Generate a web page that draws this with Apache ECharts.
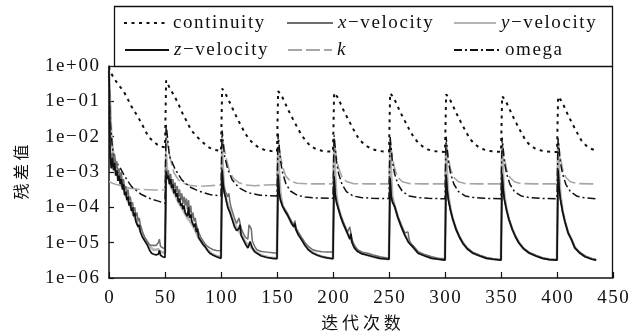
<!DOCTYPE html>
<html><head><meta charset="utf-8">
<script src="https://cdn.jsdelivr.net/npm/echarts@6/dist/echarts.min.js"></script>
<style>html,body{margin:0;padding:0;background:#fff}#c{width:632px;height:335px}</style>
</head><body><div id="c"></div>
<script>
// ---- data: [iteration, residual] ----
const continuity = [
[0,0.95],[1,0.7],[5,0.42],[9,0.28],[13,0.195],[17,0.112],[20,0.072],[24,0.045],[28,0.0275],[32,0.0158],[35,0.0102],[39,0.0076],[43,0.006],[47,0.0052],[50,0.005],
[51,0.39],[54,0.245],[57,0.166],[60,0.112],[63,0.071],[66,0.043],[70,0.025],[73,0.0158],[77,0.0112],[81,0.0083],[86,0.006],[90,0.0048],[95,0.0042],[100,0.0039],
[101,0.23],[104,0.166],[107,0.105],[110,0.066],[114,0.0355],[118,0.02],[122,0.0118],[126,0.0079],[130,0.0059],[135,0.0047],[140,0.0041],[145,0.0039],[150,0.0038],
[151,0.195],[154,0.148],[157,0.093],[160,0.0575],[164,0.0324],[168,0.0186],[172,0.011],[176,0.0074],[180,0.0054],[185,0.0044],[190,0.004],[195,0.0038],[200,0.0038],
[201,0.174],[204,0.132],[207,0.083],[210,0.051],[214,0.029],[218,0.0166],[222,0.0098],[226,0.0069],[230,0.0054],[235,0.0044],[240,0.004],[245,0.0038],[250,0.0038],
[251,0.17],[254,0.13],[257,0.082],[260,0.05],[264,0.0285],[268,0.0163],[272,0.0097],[276,0.0068],[280,0.0053],[285,0.0043],[290,0.0039],[295,0.0038],[300,0.0037],
[301,0.158],[304,0.12],[307,0.076],[310,0.047],[314,0.0265],[318,0.0151],[322,0.0089],[326,0.0063],[330,0.0051],[335,0.0043],[340,0.0039],[345,0.0038],[350,0.0037],
[351,0.14],[354,0.105],[357,0.067],[360,0.041],[364,0.023],[368,0.0131],[372,0.0078],[376,0.0057],[380,0.0047],[385,0.0041],[390,0.0038],[395,0.0037],[400,0.0037],
[401,0.135],[404,0.102],[407,0.065],[410,0.04],[414,0.0224],[418,0.0128],[422,0.0076],[426,0.0056],[430,0.0046],[435,0.004]
];
const xVelocity = [
[0,0.9],[1,5e-3],[2,2e-3],[3,3.5e-3],[4,1.6e-3],[5,3.2e-3],[6,1.26e-3],[7,2e-3],[8,7.9e-4],[9,1.26e-3],[10,6.3e-4],[11,1e-3],[12,4.5e-4],[13,6.3e-4],[14,3.2e-4],[15,4e-4],[16,2.2e-4],[17,3.2e-4],[18,1.6e-4],[19,2e-4],[20,1.12e-4],[21,1.4e-4],[22,7.9e-5],[23,1e-4],[24,5.6e-5],[25,7.1e-5],[26,4e-5],[27,5e-5],[28,3.2e-5],[30,2e-5],[32,1.4e-5],[34,1.12e-5],[36,8.9e-6],[38,8.3e-6],[40,8.5e-6],[42,8.3e-6],[44,1e-5],[45,1.26e-5],[46,7.9e-6],[48,7.1e-6],[50,6.9e-6],
[51,1.26e-3],[52,7.9e-4],[53,1.12e-3],[54,5.6e-4],[55,8.9e-4],[56,4.5e-4],[57,6.3e-4],[58,3.5e-4],[59,5e-4],[60,2.8e-4],[61,4e-4],[62,2e-4],[63,3.2e-4],[64,1.6e-4],[65,2.5e-4],[66,1.26e-4],[67,2e-4],[68,1.12e-4],[69,1.8e-4],[70,8.9e-5],[71,1.6e-4],[72,7.1e-5],[73,1.12e-4],[74,5e-5],[75,7.1e-5],[76,4e-5],[77,5e-5],[78,3.2e-5],[79,3.5e-5],[80,2e-5],[82,1.4e-5],[84,1.12e-5],[86,8.9e-6],[88,7.9e-6],[90,7.1e-6],[93,6.3e-6],[96,6e-6],[100,5.9e-6],
[101,1.26e-3],[102,5e-4],[103,3.5e-4],[104,2.8e-4],[105,2.5e-4],[106,2e-4],[107,2.5e-4],[108,1.4e-4],[109,1e-4],[110,7.9e-5],[112,5e-5],[114,3.5e-5],[116,5e-5],[117,5.6e-5],[118,2.5e-5],[120,1.8e-5],[122,1.4e-5],[124,1.26e-5],[125,3.2e-5],[126,3.5e-5],[127,2.5e-5],[128,1.12e-5],[130,7.9e-6],[132,6.3e-6],[136,5.6e-6],[141,5.4e-6],[146,5.2e-6],[150,5e-6],
[151,8.9e-4],[152,2.8e-4],[153,1.8e-4],[155,1.12e-4],[157,8.9e-5],[159,7.1e-5],[161,5.2e-5],[163,4e-5],[165,3.2e-5],[166,4.2e-5],[167,2.6e-5],[169,2e-5],[172,1.4e-5],[175,1e-5],[178,7.9e-6],[182,6.3e-6],[186,5.8e-6],[190,5.5e-6],[195,5.4e-6],[200,5.4e-6],
[201,7.9e-4],[202,2.5e-4],[203,1.6e-4],[205,9.3e-5],[207,5.8e-5],[209,4e-5],[211,2.8e-5],[213,2e-5],[215,2.8e-5],[216,2.5e-5],[217,1.2e-5],[219,8.3e-6],[222,6.3e-6],[226,5.4e-6],[231,5e-6],[236,4.5e-6],[242,4e-6],[250,3.6e-6],
[251,7.1e-4],[252,2.2e-4],[253,1.6e-4],[255,1.12e-4],[258,5.5e-5],[261,3.2e-5],[264,1.9e-5],[267,2e-5],[268,1.26e-5],[269,1e-5],[272,7.9e-6],[276,5.6e-6],[282,4.6e-6],[288,4e-6],[294,3.6e-6],[300,3.5e-6],
[301,8.5e-4],[302,3.1e-4],[303,1.7e-4],[305,8.4e-5],[307,4.7e-5],[310,2.45e-5],[313,1.5e-5],[316,1.02e-5],[320,7e-6],[325,5.3e-6],[331,4.4e-6],[337,3.8e-6],[343,3.5e-6],[350,3.3e-6],
[351,9.1e-4],[352,3.2e-4],[353,1.7e-4],[355,8.6e-5],[357,4.8e-5],[360,2.5e-5],[363,1.5e-5],[366,1e-5],[370,7e-6],[375,5.3e-6],[381,4.4e-6],[387,3.7e-6],[393,3.4e-6],[400,3.3e-6],
[401,1.2e-3],[402,3.4e-4],[403,1.75e-4],[405,7.8e-5],[407,4.2e-5],[410,1.95e-5],[413,1.25e-5],[416,7.4e-6],[420,5.4e-6],[425,4.2e-6],[431,3.5e-6],[435,3.3e-6]
];
const yVelocity = [
[0,0.7],[1,8e-2],[2,1.2e-2],[3,5e-3],[4,3e-3],[6,1.8e-3],[8,1e-3],[10,6.5e-4],[12,4e-4],[14,2.6e-4],[16,1.8e-4],[18,1.25e-4],[20,9e-5],[22,6.2e-5],[24,4.4e-5],[26,3e-5],[28,2.2e-5],[30,1.6e-5],[33,1.1e-5],[36,7.8e-6],[40,6.2e-6],[44,6.5e-6],[46,5.6e-6],[50,5e-6],
[51,3e-3],[52,1e-3],[54,5e-4],[56,3.5e-4],[58,2.6e-4],[60,1.9e-4],[62,1.4e-4],[64,1.1e-4],[66,8.5e-5],[68,6.5e-5],[70,5e-5],[72,4.2e-5],[74,3.4e-5],[76,2.6e-5],[78,1.9e-5],[80,1.4e-5],[84,9e-6],[88,6.2e-6],[92,4.8e-6],[96,4.2e-6],[100,3.9e-6],
[101,4e-3],[102,8e-4],[103,3e-4],[105,1.5e-4],[107,1e-4],[110,5e-5],[114,2.6e-5],[118,1.7e-5],[122,1e-5],[126,8e-6],[130,5.8e-6],[136,4.4e-6],[143,3.8e-6],[150,3.6e-6],
[151,5e-3],[152,8e-4],[153,2.5e-4],[155,1.1e-4],[159,6.5e-5],[163,3.6e-5],[167,2.4e-5],[172,1.25e-5],[178,6.5e-6],[186,4.5e-6],[193,3.8e-6],[200,3.5e-6],
[201,5e-3],[202,8e-4],[203,2.2e-4],[205,9e-5],[209,3.6e-5],[213,1.9e-5],[217,1.05e-5],[222,5.8e-6],[230,4.5e-6],[240,3.7e-6],[250,3.4e-6],
[251,5e-3],[252,7.5e-4],[253,2e-4],[255,1.1e-4],[258,5.2e-5],[261,2.9e-5],[264,1.7e-5],[268,1.05e-5],[272,7.3e-6],[276,5.1e-6],[284,4.1e-6],[292,3.5e-6],[300,3.3e-6],
[301,5e-3],[302,7e-4],[303,2.2e-4],[305,8.5e-5],[307,4.6e-5],[310,2.35e-5],[313,1.45e-5],[316,9.7e-6],[320,6.7e-6],[325,5.1e-6],[331,4.3e-6],[337,3.7e-6],[343,3.4e-6],[350,3.3e-6],
[351,5e-3],[352,7e-4],[353,2.2e-4],[355,8.6e-5],[357,4.7e-5],[360,2.45e-5],[363,1.5e-5],[366,1e-5],[370,6.9e-6],[375,5.2e-6],[381,4.3e-6],[387,3.7e-6],[393,3.4e-6],[400,3.3e-6],
[401,5.5e-3],[402,7.5e-4],[403,2.4e-4],[405,8e-5],[407,4.1e-5],[410,1.9e-5],[413,1.22e-5],[416,7.2e-6],[420,5.3e-6],[425,4.1e-6],[431,3.5e-6],[435,3.3e-6]
];
const zVelocity = [
[0,0.8],[1,2.8e-3],[2,1.26e-3],[3,2.5e-3],[4,1.12e-3],[5,1.8e-3],[6,7.9e-4],[7,1.12e-3],[8,5.6e-4],[9,7.9e-4],[10,4.5e-4],[11,6.3e-4],[12,3.2e-4],[13,4.5e-4],[14,2.2e-4],[15,2.8e-4],[16,1.6e-4],[17,2e-4],[18,1.12e-4],[19,1.4e-4],[20,7.9e-5],[21,1e-4],[22,5.6e-5],[23,7.1e-5],[24,4e-5],[25,4.5e-5],[26,2.8e-5],[27,3.2e-5],[28,2e-5],[30,1.4e-5],[32,1.12e-5],[34,8.9e-6],[36,6.3e-6],[38,5e-6],[40,4.7e-6],[42,4.5e-6],[44,4.7e-6],[45,6e-6],[46,4.4e-6],[48,4e-6],[50,3.8e-6],
[51,1.05e-3],[52,6.3e-4],[53,7.9e-4],[54,4.5e-4],[55,6.3e-4],[56,3.5e-4],[57,4.5e-4],[58,2.5e-4],[59,3.2e-4],[60,2e-4],[61,2.5e-4],[62,1.4e-4],[63,1.8e-4],[64,1.12e-4],[65,1.3e-4],[66,8.9e-5],[67,1.12e-4],[68,7.1e-5],[69,7.9e-5],[70,5.6e-5],[71,1e-4],[72,5e-5],[73,6.3e-5],[74,4e-5],[75,4.5e-5],[76,2.8e-5],[77,3.5e-5],[78,2e-5],[79,2.5e-5],[80,1.4e-5],[82,1.12e-5],[84,8.9e-6],[86,7.6e-6],[88,6e-6],[90,5e-6],[93,4.4e-6],[96,4e-6],[100,3.6e-6],
[101,1.18e-3],[102,4e-4],[103,2.5e-4],[104,2e-4],[105,1.4e-4],[106,1e-4],[107,1.12e-4],[108,7.1e-5],[109,5.6e-5],[110,4.5e-5],[112,2.8e-5],[114,2.2e-5],[116,2.5e-5],[117,3.2e-5],[118,1.6e-5],[120,1.2e-5],[122,8.9e-6],[124,7.1e-6],[126,1.07e-5],[127,1.12e-5],[128,7.1e-6],[130,5.6e-6],[132,5e-6],[136,4.2e-6],[141,3.8e-6],[146,3.6e-6],[150,3.5e-6],
[151,8.3e-4],[152,2.5e-4],[153,1.6e-4],[155,1.05e-4],[157,7.9e-5],[159,6.3e-5],[161,4.8e-5],[163,3.5e-5],[165,2.8e-5],[166,3.5e-5],[167,2.3e-5],[169,1.66e-5],[172,1.2e-5],[175,8.3e-6],[178,6.3e-6],[182,5e-6],[186,4.4e-6],[190,4e-6],[195,3.7e-6],[200,3.5e-6],
[201,7.6e-4],[202,2.2e-4],[203,1.4e-4],[205,8.5e-5],[207,5.2e-5],[209,3.5e-5],[211,2.5e-5],[213,1.8e-5],[215,1.26e-5],[216,1.8e-5],[217,1e-5],[219,7.1e-6],[222,5.6e-6],[226,4.8e-6],[231,4.4e-6],[236,4e-6],[242,3.6e-6],[250,3.4e-6],
[251,6.8e-4],[252,2e-4],[253,1.4e-4],[255,1.05e-4],[258,5e-5],[261,2.8e-5],[264,1.66e-5],[267,1.07e-5],[269,8.9e-6],[272,7.1e-6],[276,5e-6],[282,4.2e-6],[288,3.6e-6],[294,3.4e-6],[300,3.2e-6],
[301,8.3e-4],[302,3e-4],[303,1.6e-4],[305,8e-5],[307,4.5e-5],[310,2.3e-5],[313,1.4e-5],[316,9.5e-6],[320,6.6e-6],[325,5e-6],[331,4.2e-6],[337,3.6e-6],[343,3.4e-6],[350,3.2e-6],
[351,8.9e-4],[352,3.1e-4],[353,1.65e-4],[355,8.2e-5],[357,4.6e-5],[360,2.4e-5],[363,1.45e-5],[366,9.8e-6],[370,6.8e-6],[375,5.1e-6],[381,4.2e-6],[387,3.6e-6],[393,3.3e-6],[400,3.2e-6],
[401,1.18e-3],[402,3.3e-4],[403,1.7e-4],[405,7.5e-5],[407,4e-5],[410,1.86e-5],[413,1.2e-5],[416,7e-6],[420,5.2e-6],[425,4e-6],[431,3.4e-6],[435,3.2e-6]
];
const kRes = [
[0,5.4e-4],[2,5e-4],[5,4.6e-4],[9,4.2e-4],[13,3.8e-4],[18,3.5e-4],[25,3.3e-4],[32,3.2e-4],[40,3.1e-4],[50,3.1e-4],
[51,1e-2],[53,4.5e-3],[55,2.2e-3],[58,9.5e-4],[62,6e-4],[66,4.9e-4],[72,4.2e-4],[80,3.9e-4],[90,4.1e-4],[100,4.3e-4],
[101,1e-2],[103,4.5e-3],[105,2.2e-3],[108,9.5e-4],[112,6.2e-4],[116,5e-4],[122,4.3e-4],[130,4.1e-4],[140,4.3e-4],[150,4.4e-4],
[151,9e-3],[153,3e-3],[155,1.4e-3],[158,7.5e-4],[162,5.5e-4],[168,4.8e-4],[180,4.6e-4],[200,4.6e-4],
[201,8e-3],[203,2.7e-3],[205,1.3e-3],[208,7.2e-4],[212,5.4e-4],[218,4.7e-4],[230,4.6e-4],[250,4.6e-4],
[251,7.5e-3],[253,2.6e-3],[255,1.25e-3],[258,7e-4],[262,5.3e-4],[268,4.7e-4],[280,4.6e-4],[300,4.6e-4],
[301,7e-3],[303,2.5e-3],[305,1.2e-3],[308,7e-4],[312,5.3e-4],[318,4.7e-4],[330,4.6e-4],[350,4.6e-4],
[351,7e-3],[353,2.5e-3],[355,1.2e-3],[358,7e-4],[362,5.3e-4],[368,4.7e-4],[380,4.6e-4],[400,4.6e-4],
[401,7e-3],[403,2.5e-3],[405,1.2e-3],[408,7e-4],[412,5.3e-4],[418,4.7e-4],[430,4.6e-4],[435,4.6e-4]
];
const omega = [
[0,0.6],[1,3e-2],[3,5e-3],[5,2.2e-3],[10,1.3e-3],[14,7.6e-4],[20,3.9e-4],[25,2.9e-4],[29,2.3e-4],[37,1.75e-4],[44,1.5e-4],[50,1.3e-4],
[51,2.2e-2],[54,2.8e-3],[59,1.2e-3],[65,6e-4],[72,3.8e-4],[80,2.9e-4],[90,2.3e-4],[100,2.1e-4],
[101,1.5e-2],[103,3e-3],[106,1.2e-3],[110,6e-4],[116,3.6e-4],[124,2.6e-4],[135,2.2e-4],[150,2.1e-4],
[151,1.2e-2],[153,2.2e-3],[155,9.5e-4],[158,4.6e-4],[162,2.9e-4],[168,2.2e-4],[175,1.95e-4],[185,1.85e-4],[200,1.8e-4],
[201,1.1e-2],[203,2.1e-3],[205,9e-4],[208,4.5e-4],[212,2.8e-4],[218,2.1e-4],[225,1.9e-4],[235,1.8e-4],[250,1.78e-4],
[251,1e-2],[253,2e-3],[255,9e-4],[258,4.5e-4],[262,2.8e-4],[268,2.1e-4],[275,1.9e-4],[285,1.8e-4],[300,1.75e-4],
[301,1e-2],[303,2e-3],[305,9e-4],[308,4.5e-4],[312,2.8e-4],[318,2.1e-4],[325,1.9e-4],[335,1.8e-4],[350,1.75e-4],
[351,9.5e-3],[353,1.95e-3],[355,8.9e-4],[358,4.5e-4],[362,2.8e-4],[368,2.1e-4],[375,1.9e-4],[385,1.8e-4],[400,1.75e-4],
[401,9e-3],[403,1.9e-3],[405,8.8e-4],[408,4.4e-4],[412,2.75e-4],[418,2.05e-4],[425,1.85e-4],[435,1.75e-4]
];
const xTickStep = 50;
const yAxisTitle = '残 差 值';
const xAxisTitle = '迭 代 次 数';

const HS = '\u200A';
const sp = s => s.split('').join(HS);
const SERIF = "'Liberation Serif', 'Times New Roman', serif";
const FS = 19;

function yLabel(v) {
  const e = Math.round(Math.log10(v));
  const sign = e < 0 ? '\u2212' : '+';
  const d = String(Math.abs(e)).padStart(2, '0');
  return sp('1e' + sign + d);
}

const legendDefs = [
  {name: 'continuity', left: 123, top: 12, w: 44, text: sp('continuity')},
  {name: 'x-velocity', left: 286, top: 12, w: 46, text: '{i|x}' + HS + sp('\u2212velocity')},
  {name: 'y-velocity', left: 453, top: 12, w: 42, text: '{i|y}' + HS + sp('\u2212velocity')},
  {name: 'z-velocity', left: 124, top: 39, w: 44, text: '{i|z}' + HS + sp('\u2212velocity')},
  {name: 'k', left: 287, top: 39, w: 44, text: '{i|k}'},
  {name: 'omega', left: 453, top: 39, w: 46, text: sp('omega')}
];

const chart = echarts.init(document.getElementById('c'), null, {renderer: 'canvas'});
const mk = (name, data, color, width, type, z) => ({
  name, type: 'line', data, showSymbol: false, symbol: 'none', z,
  lineStyle: {color, width, type}, itemStyle: {color}, animation: false
});

chart.setOption({
  animation: false,
  backgroundColor: '#fff',
  grid: {left: 109, right: 19, top: 66, bottom: 57, containLabel: false, outerBoundsMode: 'none'},
  legend: legendDefs.map(d => ({
    data: [d.name], left: d.left, top: d.top, padding: 0,
    itemWidth: d.w, itemHeight: 14, selectedMode: false,
    itemStyle: {opacity: 0, borderWidth: 0},
    formatter: () => d.text,
    textStyle: {fontFamily: SERIF, fontSize: FS, color: '#111', lineHeight: 22,
      rich: {i: {fontFamily: SERIF, fontStyle: 'italic', fontSize: FS, color: '#111'}}}
  })),
  xAxis: {
    type: 'value', min: 0, max: 450, interval: xTickStep,
    name: xAxisTitle, nameLocation: 'middle', nameGap: 36,
    nameTextStyle: {fontFamily: 'Noto Sans CJK SC', fontSize: 17, color: '#111'},
    axisLine: {lineStyle: {color: '#111', width: 1.5}},
    axisTick: {inside: true, length: 6, lineStyle: {color: '#111', width: 1.2}},
    axisLabel: {margin: 11, fontFamily: SERIF, fontSize: FS, color: '#111', formatter: v => sp(String(v))},
    splitLine: {show: false}
  },
  yAxis: {
    type: 'log', logBase: 10, min: 1e-6, max: 1, interval: 1,
    name: yAxisTitle, nameLocation: 'middle', nameGap: 80, nameRotate: 90,
    nameTextStyle: {fontFamily: 'Noto Sans CJK SC', fontSize: 16, color: '#111'},
    axisLine: {show: true, lineStyle: {color: '#111', width: 1.5}},
    axisTick: {show: true, inside: true, length: 5, lineStyle: {color: '#111', width: 1.2}},
    minorTick: {show: false},
    axisLabel: {margin: 10, fontFamily: SERIF, fontSize: FS, color: '#111', formatter: yLabel},
    splitLine: {show: false}
  },
  graphic: [
    {type: 'rect', shape: {x: 114.5, y: 6.5, width: 498, height: 60}, style: {fill: 'none', stroke: '#111', lineWidth: 1.3}, z: 100},
    {type: 'line', shape: {x1: 612.5, y1: 66, x2: 612.5, y2: 278}, style: {stroke: '#111', lineWidth: 1.3}, z: 100}
  ],
  series: [
    mk('y-velocity', yVelocity, '#b4b4b4', 2.6, 'solid', 2),
    mk('k', kRes, '#a6a6a6', 1.6, [14, 4], 3),
    mk('omega', omega, '#111', 1.5, [8, 3, 2, 3], 4),
    mk('x-velocity', xVelocity, '#6e6e6e', 1.5, 'solid', 5),
    mk('z-velocity', zVelocity, '#111', 1.7, 'solid', 6),
    mk('continuity', continuity, '#111', 2, [3, 4.5], 7)
  ]
});
</script></body></html>
